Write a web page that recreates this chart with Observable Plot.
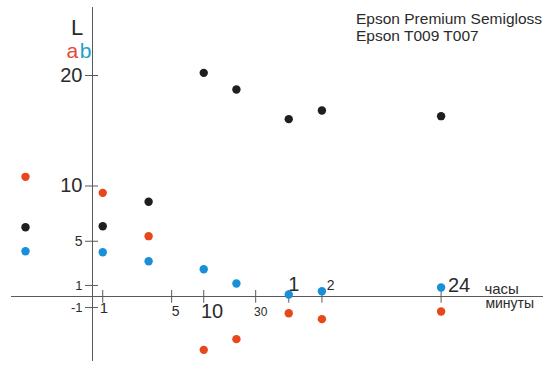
<!DOCTYPE html>
<html>
<head>
<meta charset="utf-8">
<script src="https://cdn.jsdelivr.net/npm/d3@7"></script>
<script src="https://cdn.jsdelivr.net/npm/@observablehq/plot@0.6"></script>
<style>
  html, body { margin: 0; padding: 0; background: #ffffff; }
  svg { display: block; }
</style>
</head>
<body>
<div id="chart"></div>
<script>
// ---- data ----
const minutes = [0, 1, 3, 10, 20, 60, 120, 1440];
const seriesL = [6.27, 6.36, 8.57, 20.24, 18.73, 16.05, 16.83, 16.32];
const seriesA = [10.83, 9.38, 5.46, -4.83, -3.86, -1.51, -2.05, -1.36];
const seriesB = [4.10, 4.01, 3.19, 2.47, 1.18, 0.18, 0.48, 0.81];
const seriesNames = ["L", "a", "b"];

const xTickMinutes = [1, 5, 10, 30, 60, 120, 1440];
const xTickLabels = ["1", "5", "10", "30", "1", "2", "24"];
const yTicksLarge = [20, 10];
const yTicksMid = [5];
const yTicksSmall = [1, -1];

const titleLines = ["Epson Premium Semigloss", "Epson T009 T007"];
const unitHours = "часы";
const unitMinutes = "минуты";

// ---- build table ----
const rows = [];
minutes.forEach((t, i) => {
  rows.push({t, v: seriesL[i], s: seriesNames[0]});
  rows.push({t, v: seriesA[i], s: seriesNames[1]});
  rows.push({t, v: seriesB[i], s: seriesNames[2]});
});

const colors = {L: "#1f1f1f", a: "#e8471c", b: "#1a8fd9"};
const axisGray = "#5a5a5a";
const textGray = "#2b2b2b";

// per-label styling for the mixed minute/hour axis
const xLabelStyle = [
  {fontSize: 15, dx: -3,   dy: 16.3},
  {fontSize: 14, dx: 0,    dy: 19},
  {fontSize: 20, dx: -2.8, dy: 21.3},
  {fontSize: 12, dx: -1.7, dy: 19.3},
  {fontSize: 20, dx: -0.5, dy: -6},
  {fontSize: 14, dx: 4.8,  dy: -6.7},
  {fontSize: 20, dx: 6.8,  dy: -4.3}
];

const xLabelMarks = xTickMinutes.map((m, i) => Plot.text([i], {
  x: (j) => xTickMinutes[j],
  y: () => 0,
  text: (j) => xTickLabels[j],
  textAnchor: "start",
  lineAnchor: "bottom",
  fill: textGray,
  fontSize: xLabelStyle[i].fontSize,
  dx: xLabelStyle[i].dx,
  dy: xLabelStyle[i].dy
}));

const yAxisCommon = {anchor: "left", label: null, tickSize: 13, tickPadding: 3, dx: 87, stroke: axisGray, fill: textGray, tickFormat: (d) => `${d}`};

const chart = Plot.plot({
  width: 550,
  height: 368,
  marginLeft: 11,
  marginRight: 7,
  marginTop: 7,
  marginBottom: 8,
  style: {fontFamily: "'Liberation Sans', Arial, sans-serif", background: "#ffffff", color: textGray},
  x: {type: "symlog", constant: 0.25, domain: [0, 1440], range: [25, 440.6], axis: null},
  y: {domain: [-5, 20], range: [351.25, 75], axis: null, label: null},
  color: {domain: seriesNames, range: seriesNames.map((s) => colors[s])},
  marks: [
    // axis lines
    Plot.ruleY([0], {stroke: axisGray, strokeWidth: 1}),
    Plot.frame({anchor: "left", dx: 81, stroke: axisGray, strokeWidth: 1}),
    // x ticks
    Plot.ruleX(xTickMinutes, {x: (d) => d, y1: () => 0, y2: () => 0, insetTop: -6, insetBottom: -6.7, stroke: axisGray}),
    ...xLabelMarks,
    // y axis ticks & labels
    Plot.axisY(yTicksLarge, {...yAxisCommon, fontSize: 20}),
    Plot.axisY(yTicksMid, {...yAxisCommon, fontSize: 14}),
    Plot.axisY(yTicksSmall, {...yAxisCommon, fontSize: 13}),
    // unit labels
    Plot.text([unitHours], {x: () => 1440, y: () => 0, text: (d) => d, textAnchor: "start", lineAnchor: "bottom", fontSize: 15, dx: 43.3, dy: -3, fill: textGray}),
    Plot.text([unitMinutes], {x: () => 1440, y: () => 0, text: (d) => d, textAnchor: "start", lineAnchor: "bottom", fontSize: 14, dx: 44.3, dy: 11.6, fill: textGray}),
    // axis name labels
    Plot.text(["L"], {frameAnchor: "top-left", text: (d) => d, textAnchor: "start", lineAnchor: "bottom", fontSize: 22, dx: 59.4, dy: 27.3, fill: textGray}),
    Plot.text(["a"], {frameAnchor: "top-left", text: (d) => d, textAnchor: "start", lineAnchor: "bottom", fontSize: 21, dx: 55, dy: 50, fill: "#e4493b"}),
    Plot.text(["b"], {frameAnchor: "top-left", text: (d) => d, textAnchor: "start", lineAnchor: "bottom", fontSize: 21, dx: 68.3, dy: 50, fill: "#1ea2c9"}),
    // title
    Plot.text([titleLines.join("\n")], {frameAnchor: "top-left", text: (d) => d, textAnchor: "start", lineAnchor: "top", fontSize: 15.5, lineHeight: 1.05, dx: 344.5, dy: 5.3, fill: textGray}),
    // data
    Plot.dot(rows, {x: "t", y: "v", fill: "s", r: 4.2, stroke: "none"})
  ]
});

document.getElementById("chart").appendChild(chart);
</script>
</body>
</html>
